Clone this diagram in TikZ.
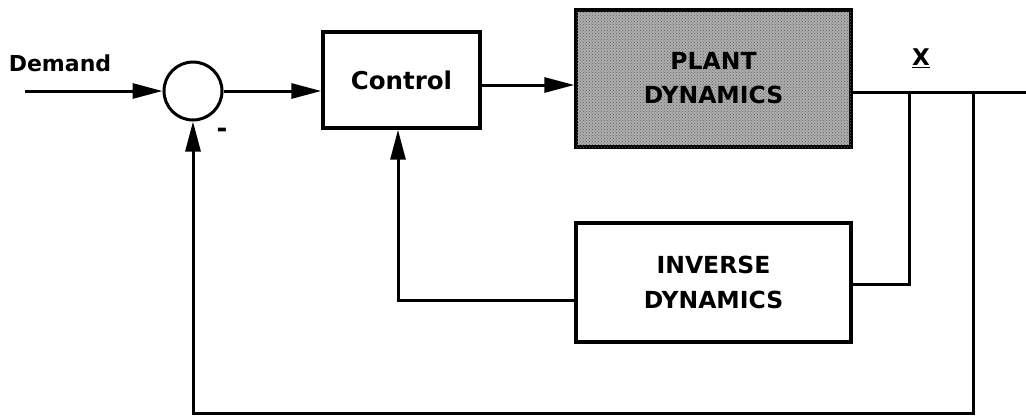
\documentclass[tikz,border=0pt]{standalone}
\usepackage{fontspec}
\setmainfont{DejaVu Sans}
\usetikzlibrary{arrows.meta,patterns}
\begin{document}
\begin{tikzpicture}[x=1pt,y=-1pt,
  ln/.style={line width=3pt},
  arr/.style={line width=3pt,-{Triangle[length=30pt,width=15pt]}},
  blk/.style={draw,line width=3.4pt,inner sep=0pt,align=center},
  lbl/.style={inner sep=0pt,font=\fontsize{22}{28}\selectfont\bfseries}
]
\useasboundingbox (0,0) rectangle (1026,416);
% blocks
\node[draw,circle,line width=3pt,minimum size=58pt,inner sep=0pt] (sum) at (193,91) {};
\node[blk,minimum width=157pt,minimum height=96pt,font=\fontsize{24.5}{30}\selectfont\bfseries] (ctrl) at (401.5,80) {Control};
\node[blk,minimum width=275pt,minimum height=137pt,fill=black!32,
  postaction={pattern=crosshatch dots,pattern color=black!60},
  font=\fontsize{23.5}{34}\selectfont\bfseries] (plant) at (713.5,78.5) {PLANT\\DYNAMICS};
\node[blk,minimum width=275pt,minimum height=119pt,
  font=\fontsize{23.5}{35}\selectfont\bfseries] (inv) at (713.5,282.5) {INVERSE\\DYNAMICS};
% labels
\node[lbl] (dem) at (60,63) {Demand};
\node[lbl,font=\fontsize{23}{28}\selectfont\bfseries] (xl) at (921,58) {\underline{X}};
\node[lbl,font=\fontsize{26}{28}\selectfont\bfseries] (minus) at (222,133) {-};
% coordinates
\coordinate (in) at (25,91);
\coordinate (xo) at (1026,92);
\coordinate (j1) at (909,92);
\coordinate (j2) at (973,92);
\coordinate (fb) at (193,413);
% connectors
\draw[arr] (in) -- (sum.west);
\draw[arr] (sum.east) -- (sum.east -| ctrl.west);
\draw[arr] ([yshift=-5pt]ctrl.east) -- ([yshift=-5pt]ctrl.east -| plant.west);
\draw[ln] (plant.east |- xo) -- (xo);
\draw[ln] (j1) |- ([yshift=-1.5pt]inv.east);
\draw[arr] (j2) |- (fb) -- (sum.south);
\draw[arr] ([yshift=-17.5pt]inv.west) -| ([xshift=-3.5pt]ctrl.south);
\end{tikzpicture}
\end{document}
